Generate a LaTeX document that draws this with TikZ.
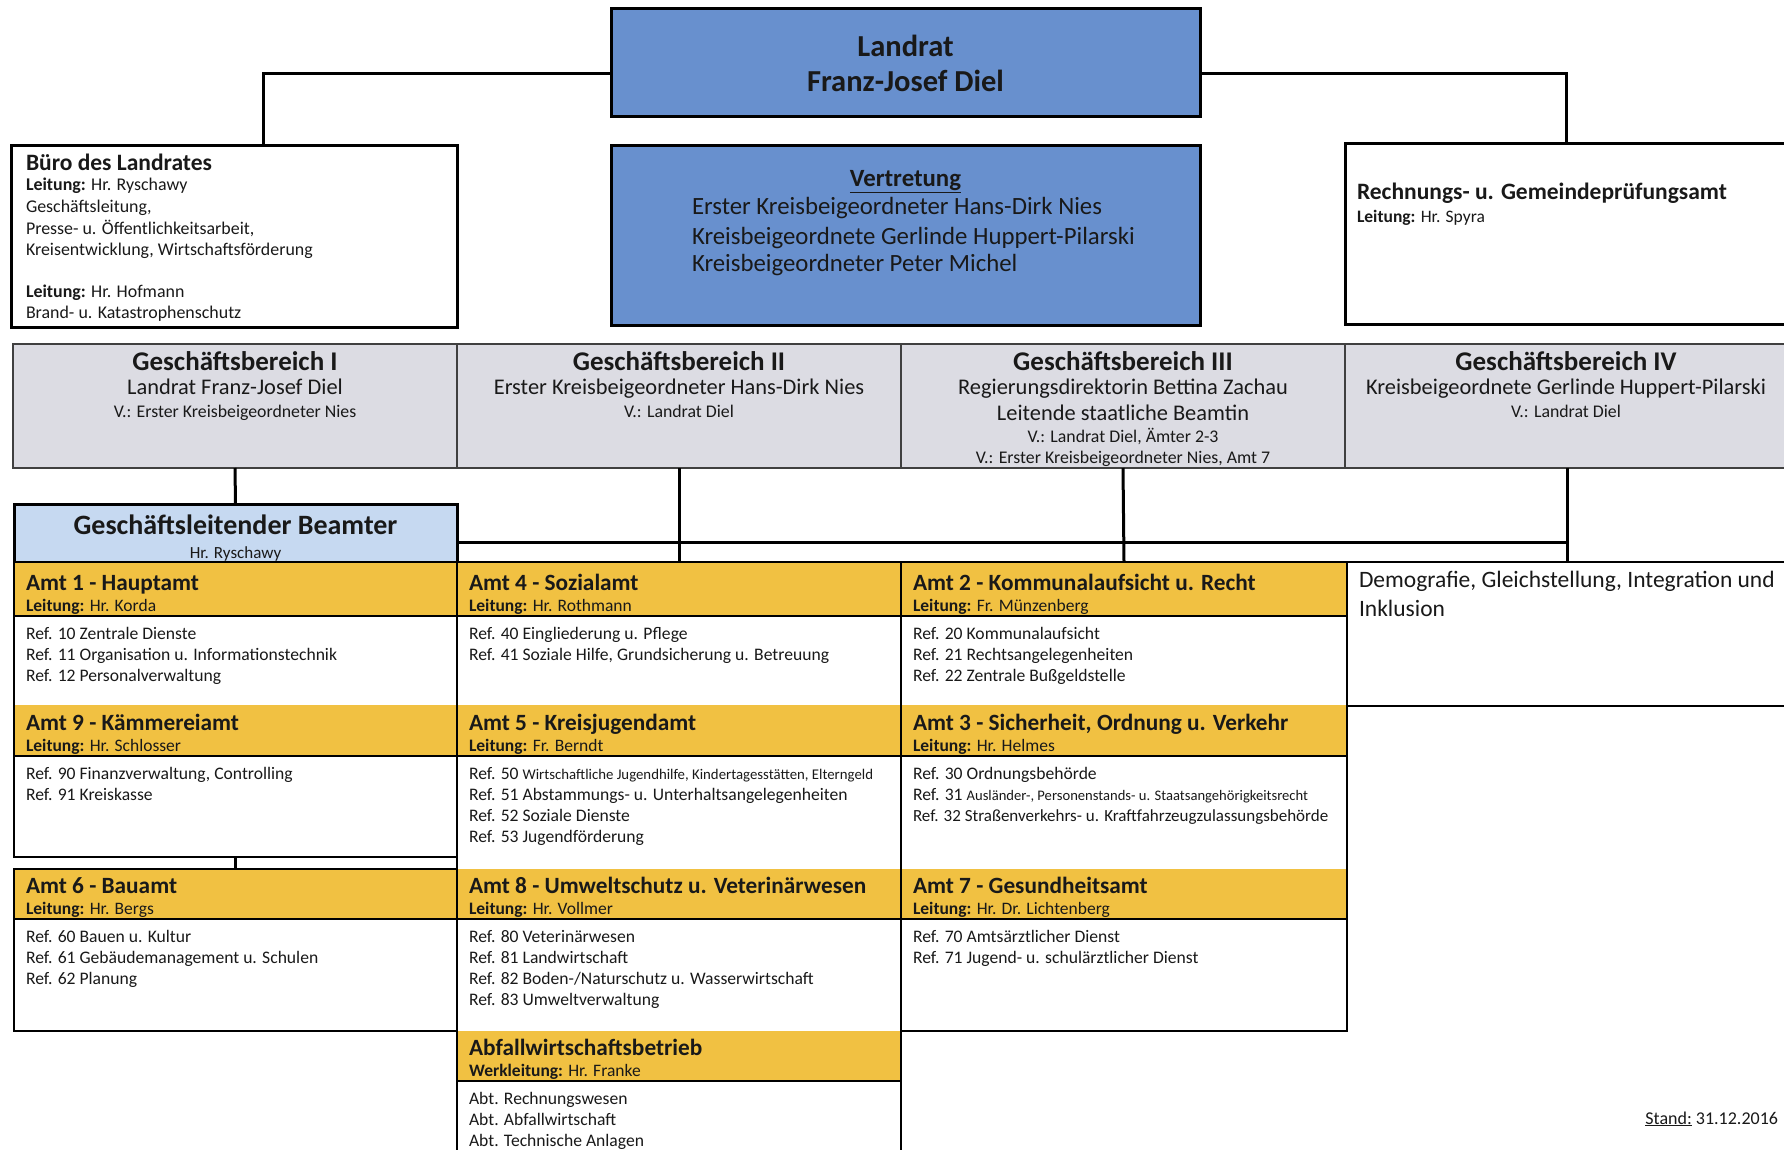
\documentclass[tikz,border=0pt]{standalone}
\usepackage{fontspec}
\setmainfont{Carlito}
\definecolor{lrblue}{RGB}{104,144,206}
\definecolor{glblue}{RGB}{198,217,241}
\definecolor{gbgray}{RGB}{220,220,227}
\definecolor{amtyel}{RGB}{241,193,66}
\definecolor{txt}{RGB}{25,25,25}
\newcommand\amtblock[9]{%
  \node[hdr, minimum width=#3pt, minimum height=#5pt] (#1h) at (#2,#4) {};
  \node[bodybox, minimum width=#3pt, minimum height={(#6-#4-#5)*1pt}] (#1b) at (#2,#4+#5) {};
  \draw[sepline] (#1h.south west) -- (#1h.south east);
  \node[tl, amtt] (#1t) at (#2+12,#4+#5-26) {#7};
  \node[tl, amtl] (#1l) at (#2+12,#4+#5-5) {#8};
  \foreach \r [count=\i] in {#9} \node[tl, amtr] (#1r\i) at (#2+12,#4+#5+23+21*\i-21) {\r};
}
\begin{document}
\begin{tikzpicture}[x=1pt,y=-1pt,
  every node/.style={inner sep=0pt, outer sep=0pt},
  bigbox/.style={draw=black, line width=3pt, anchor=north west},
  gbbox/.style={draw=black!75, line width=1.2pt, fill=gbgray, anchor=north west},
  hdr/.style={fill=amtyel, anchor=north west},
  bodybox/.style={fill=white, anchor=north west},
  sepline/.style={draw=black, line width=1.3pt},
  frame/.style={draw=black, line width=2.4pt},
  conn/.style={draw=black, line width=3pt},
  tl/.style={anchor=base west, text=txt},
  tc/.style={anchor=base, text=txt},
  f30b/.style={font=\fontsize{30.5}{34}\selectfont\bfseries},
  f24/.style={font=\fontsize{24.8}{28}\selectfont},
  f24b/.style={font=\fontsize{24.8}{28}\selectfont\bfseries},
  f23b/.style={font=\fontsize{23.5}{27}\selectfont\bfseries},
  f27b/.style={font=\fontsize{27}{31}\selectfont\bfseries},
  f28b/.style={font=\fontsize{28}{32}\selectfont\bfseries},
  f22/.style={font=\fontsize{22.4}{26}\selectfont},
  f17/.style={font=\fontsize{17.9}{21}\selectfont},
  fsm/.style={font=\fontsize{17.8}{21}\selectfont},
  amtt/.style={font=\fontsize{23.3}{27}\selectfont\bfseries},
  amtl/.style={font=\fontsize{17.5}{20}\selectfont},
  amtr/.style={font=\fontsize{17.6}{20}\selectfont},
]
\fill[white] (0,0) rectangle (1784,1150);
\useasboundingbox (0,0) rectangle (1784,1150);

% top boxes
\node[bigbox, fill=lrblue, minimum width=589pt, minimum height=108pt] (landrat) at (611,9) {};
\node[tc, f30b] (lr1) at (905.5,57) {Landrat};
\node[tc, f30b] (lr2) at (905.5,92) {Franz-Josef Diel};

\node[bigbox, fill=lrblue, minimum width=589pt, minimum height=179pt] (vertr) at (611,146) {};
\node[tc, f24b] (vt0) at (905.5,187) {\underline{Vertretung}};
\node[tl, f24] (vt1) at (692,215) {Erster Kreisbeigeordneter Hans-Dirk Nies};
\node[tl, f24] (vt2) at (692,244) {Kreisbeigeordnete Gerlinde Huppert-Pilarski};
\node[tl, f24] (vt3) at (692,272) {Kreisbeigeordneter Peter Michel};

\node[bigbox, fill=white, minimum width=446pt, minimum height=181pt] (buero) at (11,146) {};
\node[tl, f23b] (bu0) at (26,171) {Büro des Landrates};
\node[tl, f17] (bu1) at (26,191) {\textbf{Leitung:} Hr. Ryschawy};
\node[tl, f17] (bu2) at (26,213) {Geschäftsleitung,};
\node[tl, f17] (bu3) at (26,235) {Presse- u. Öffentlichkeitsarbeit,};
\node[tl, f17] (bu4) at (26,255) {Kreisentwicklung, Wirtschaftsförderung};
\node[tl, f17] (bu5) at (26,297) {\textbf{Leitung:} Hr. Hofmann};
\node[tl, f17] (bu6) at (26,318) {Brand- u. Katastrophenschutz};

\node[bigbox, fill=white, minimum width=442pt, minimum height=180pt] (rech) at (1345,144) {};
\node[tl, f23b] (re0) at (1357,200) {Rechnungs- u. Gemeindeprüfungsamt};
\node[tl, font=\fontsize{17.5}{20}\selectfont] (re1) at (1357,223) {\textbf{Leitung:} Hr. Spyra};

\draw[conn] ([yshift=-11pt]landrat.west) -| ([xshift=29pt]buero.north);
\draw[conn] ([yshift=-11pt]landrat.east) -| (rech.north);

% Geschaeftsbereiche
\node[gbbox, minimum width=444pt, minimum height=124pt] (gb1) at (13,344) {};
\node[gbbox, minimum width=444pt, minimum height=124pt] (gb2) at (457,344) {};
\node[gbbox, minimum width=444pt, minimum height=124pt] (gb3) at (901,344) {};
\node[gbbox, minimum width=444pt, minimum height=124pt] (gb4) at (1345,344) {};

\node[tc, f27b] (g1a) at (235,370) {Geschäftsbereich I};
\node[tc, f22] (g1b) at (235,394) {Landrat Franz-Josef Diel};
\node[tc, fsm] (g1c) at (235,417) {V.: Erster Kreisbeigeordneter Nies};

\node[tc, f27b] (g2a) at (679,370) {Geschäftsbereich II};
\node[tc, f22] (g2b) at (679,394) {Erster Kreisbeigeordneter Hans-Dirk Nies};
\node[tc, fsm] (g2c) at (679,417) {V.: Landrat Diel};

\node[tc, f27b] (g3a) at (1123,370) {Geschäftsbereich III};
\node[tc, f22] (g3b) at (1123,394) {Regierungsdirektorin Bettina Zachau};
\node[tc, f22] (g3c) at (1123,420) {Leitende staatliche Beamtin};
\node[tc, fsm] (g3d) at (1123,442) {V.: Landrat Diel, Ämter 2-3};
\node[tc, fsm] (g3e) at (1123,463) {V.: Erster Kreisbeigeordneter Nies, Amt 7};

\node[tc, f27b] (g4a) at (1566,370) {Geschäftsbereich IV};
\node[tc, f22] (g4b) at (1566,394) {Kreisbeigeordnete Gerlinde Huppert-Pilarski};
\node[tc, fsm] (g4c) at (1566,417) {V.: Landrat Diel};

% Geschaeftsleitender Beamter
\node[bigbox, fill=glblue, minimum width=443pt, minimum height=58pt] (glb) at (14,504) {};
\node[tc, f28b] (gl1) at (235.5,534) {Geschäftsleitender Beamter};
\node[tc, font=\fontsize{17}{20}\selectfont] (gl2) at (235.5,558) {Hr. Ryschawy};

% Aemter
\amtblock{a1}{14}{443}{562}{54}{705}{Amt 1 - Hauptamt}{\textbf{Leitung:} Hr. Korda}{{Ref. 10 Zentrale Dienste},{Ref. 11 Organisation u. Informationstechnik},{Ref. 12 Personalverwaltung}}
\amtblock{a9}{14}{443}{705}{51}{857}{Amt 9 - Kämmereiamt}{\textbf{Leitung:} Hr. Schlosser}{{Ref. 90 Finanzverwaltung, Controlling},{Ref. 91 Kreiskasse}}
\amtblock{a6}{14}{443}{869}{50}{1031}{Amt 6 - Bauamt}{\textbf{Leitung:} Hr. Bergs}{{Ref. 60 Bauen u. Kultur},{Ref. 61 Gebäudemanagement u. Schulen},{Ref. 62 Planung}}

\amtblock{a4}{457}{444}{562}{54}{705}{Amt 4 - Sozialamt}{\textbf{Leitung:} Hr. Rothmann}{{Ref. 40 Eingliederung u. Pflege},{Ref. 41 Soziale Hilfe, Grundsicherung u. Betreuung}}
\amtblock{a5}{457}{444}{705}{51}{869}{Amt 5 - Kreisjugendamt}{\textbf{Leitung:} Fr. Berndt}{{Ref. 50 {\fontsize{14.8}{16}\selectfont Wirtschaftliche Jugendhilfe, Kindertagesstätten, Elterngeld}},{Ref. 51 Abstammungs- u. Unterhaltsangelegenheiten},{Ref. 52 Soziale Dienste},{Ref. 53 Jugendförderung}}
\amtblock{a8}{457}{444}{869}{50}{1031}{Amt 8 - Umweltschutz u. Veterinärwesen}{\textbf{Leitung:} Hr. Vollmer}{{Ref. 80 Veterinärwesen},{Ref. 81 Landwirtschaft},{Ref. 82 Boden-/Naturschutz u. Wasserwirtschaft},{Ref. 83 Umweltverwaltung}}
\amtblock{aw}{457}{444}{1031}{50}{1160}{Abfallwirtschaftsbetrieb}{\textbf{Werkleitung:} Hr. Franke}{{Abt. Rechnungswesen},{Abt. Abfallwirtschaft},{Abt. Technische Anlagen}}

\amtblock{a2}{901}{446}{562}{54}{705}{Amt 2 - Kommunalaufsicht u. Recht}{\textbf{Leitung:} Fr. Münzenberg}{{Ref. 20 Kommunalaufsicht},{Ref. 21 Rechtsangelegenheiten},{Ref. 22 Zentrale Bußgeldstelle}}
\amtblock{a3}{901}{446}{705}{51}{869}{Amt 3 - Sicherheit, Ordnung u. Verkehr}{\textbf{Leitung:} Hr. Helmes}{{Ref. 30 Ordnungsbehörde},{Ref. 31 {\fontsize{14.6}{16}\selectfont Ausländer-, Personenstands- u. Staatsangehörigkeitsrecht}},{{\fontsize{17}{20}\selectfont Ref. 32 Straßenverkehrs- u. Kraftfahrzeugzulassungsbehörde}}}
\amtblock{a7}{901}{446}{869}{50}{1031}{Amt 7 - Gesundheitsamt}{\textbf{Leitung:} Hr. Dr. Lichtenberg}{{Ref. 70 Amtsärztlicher Dienst},{Ref. 71 Jugend- u. schulärztlicher Dienst}}

% Demografie
\node[anchor=north west, fill=white, minimum width=440pt, minimum height=144pt] (demo) at (1347,562) {};
\node[tl, font=\fontsize{23.5}{27}\selectfont] (de1) at (1359,587) {Demografie, Gleichstellung, Integration und};
\node[tl, font=\fontsize{23.5}{27}\selectfont] (de2) at (1359,616) {Inklusion};

% column frames
\draw[frame] (a1h.north west) rectangle (a9b.south east);
\draw[frame] (a6h.north west) rectangle (a6b.south east);
\draw[frame] (a4h.north west) rectangle (awb.south east);
\draw[frame] (a2h.north west) rectangle (a7b.south east);
\draw[frame] (demo.north west) rectangle (demo.south east);

% connectors
\coordinate (hl) at (457,542);
\coordinate (hr) at (1566,542);
\draw[conn] (gb1.south) -- (glb.north);
\draw[conn] (gb2.south) -- (a4h.north);
\draw[conn] (gb3.south) -- (a2h.north);
\draw[conn] (gb4.south) -- (gb4.south |- demo.north);
\draw[conn] (hl) -- (hr);
\draw[conn, line width=2.4pt] (a9b.south) -- (a6h.north);

\node[anchor=base east, text=txt, font=\fontsize{18}{21}\selectfont] (stand) at (1778,1124) {\underline{Stand:} 31.12.2016};
\end{tikzpicture}
\end{document}
